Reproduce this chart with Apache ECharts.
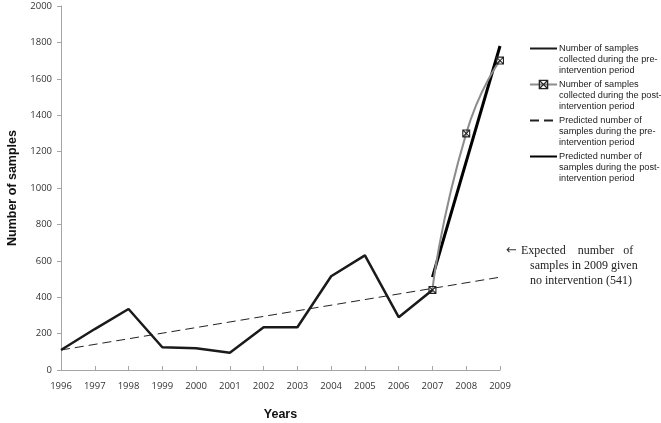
<!DOCTYPE html>
<html>
<head>
<meta charset="utf-8">
<script src="https://cdn.jsdelivr.net/npm/echarts@6/dist/echarts.min.js"></script>
<style>html,body{margin:0;padding:0;background:#fff;}#c{width:661px;height:423px;}</style>
</head>
<body>
<div id="c"></div>
<script>
const years = ['1996','1997','1998','1999','2000','2001','2002','2003','2004','2005','2006','2007','2008','2009'];
const preObserved = [110, 225, 335, 125, 120, 95, 235, 235, 515, 630, 290, 440, null, null];
const postObserved = [null, null, null, null, null, null, null, null, null, null, null, 440, 1300, 1700];
const predictedPre = [110, null, null, null, null, null, null, null, null, null, null, null, null, 510];
const predictedPost = [null, null, null, null, null, null, null, null, null, null, null, 510, null, 1780];
const yTicks = {min: 0, max: 2000, interval: 200};
const names = [
  'Number of samples\ncollected during the pre-\nintervention period',
  'Number of samples\ncollected during the post-\nintervention period',
  'Predicted number of\nsamples during the pre-\nintervention period',
  'Predicted number of\nsamples during the post-\nintervention period'
];

const boxX = 'path://M0 0L10 0L10 10L0 10Z M2.3 1.4L5 4.1L7.7 1.4Z M8.6 2.3L5.9 5L8.6 7.7Z M7.7 8.6L5 5.9L2.3 8.6Z M1.4 7.7L4.1 5L1.4 2.3Z';

const chart = echarts.init(document.getElementById('c'));
chart.setOption({
  animation: false,
  backgroundColor: '#fff',
  grid: {left: 61, right: 161, top: 6, bottom: 53, containLabel: false, outerBoundsMode: 'none'},
  legend: {
    orient: 'vertical',
    left: 529, top: 21,
    padding: 0,
    itemGap: -19,
    itemWidth: 27, itemHeight: 12,
    formatter: n => '\n\n' + n,
    textStyle: {fontFamily: 'Liberation Sans, Arial', fontSize: 9.2, lineHeight: 11, color: '#222', padding: [0,0,0,-3]},
    data: [
      {name: names[0], itemStyle: {opacity: 0}},
      {name: names[1]},
      {name: names[2], itemStyle: {opacity: 0}},
      {name: names[3], itemStyle: {opacity: 0}}
    ]
  },
  xAxis: {
    type: 'category', data: years, boundaryGap: false,
    name: 'Years', nameLocation: 'middle', nameGap: 38,
    nameTextStyle: {fontFamily: 'Liberation Sans, Arial', fontWeight: 'bold', fontSize: 12.5, color: '#111'},
    axisLine: {lineStyle: {color: '#a6a6a6', width: 1}},
    axisTick: {inside: true, length: 4, lineStyle: {color: '#a6a6a6'}},
    axisLabel: {fontFamily: 'Open Sans, Liberation Sans', fontSize: 9.5, color: '#333', margin: 11},
    splitLine: {show: false}
  },
  yAxis: {
    type: 'value', min: yTicks.min, max: yTicks.max, interval: yTicks.interval,
    name: 'Number of samples', nameLocation: 'middle', nameGap: 42, nameRotate: 90,
    nameTextStyle: {fontFamily: 'Liberation Sans, Arial', fontWeight: 'bold', fontSize: 12.5, color: '#111'},
    axisLine: {show: true, lineStyle: {color: '#a6a6a6', width: 1}},
    axisTick: {show: true, length: 4, lineStyle: {color: '#a6a6a6'}},
    axisLabel: {fontFamily: 'Open Sans, Liberation Sans', fontSize: 9.5, color: '#333', margin: 9, formatter: v => String(v)},
    splitLine: {show: false}
  },
  series: [
    {name: names[0], type: 'line', data: preObserved, symbol: 'none',
     lineStyle: {color: '#1a1a1a', width: 2.5}, itemStyle: {color: '#1a1a1a'}, z: 3},
    {name: names[1], type: 'line', data: postObserved, smooth: 0.6, symbol: boxX, symbolSize: 8, showSymbol: true,
     lineStyle: {color: '#8c8c8c', width: 2}, itemStyle: {color: '#222'}, z: 4},
    {name: names[2], type: 'line', data: predictedPre, connectNulls: true, symbol: 'none',
     lineStyle: {color: '#222', width: 1, type: [9, 5]}, itemStyle: {color: '#222'}, z: 2},
    {name: names[3], type: 'line', data: predictedPost, connectNulls: true, symbol: 'none',
     lineStyle: {color: '#000', width: 3}, itemStyle: {color: '#000'}, z: 3}
  ],
  graphic: [
    {type: 'text', left: 506, top: 244, style: {text: '\u2190', font: '13px "DejaVu Sans", sans-serif', fill: '#333'}},
    {type: 'text', left: 521, top: 245, style: {text: 'Expected    number   of', font: '12px "Liberation Serif", "Times New Roman", serif', fill: '#222'}},
    {type: 'text', left: 530, top: 259, style: {text: 'samples in 2009 given\nno intervention (541)', font: '12px "Liberation Serif", "Times New Roman", serif', lineHeight: 14.5, fill: '#222'}}
  ]
});
</script>
</body>
</html>
